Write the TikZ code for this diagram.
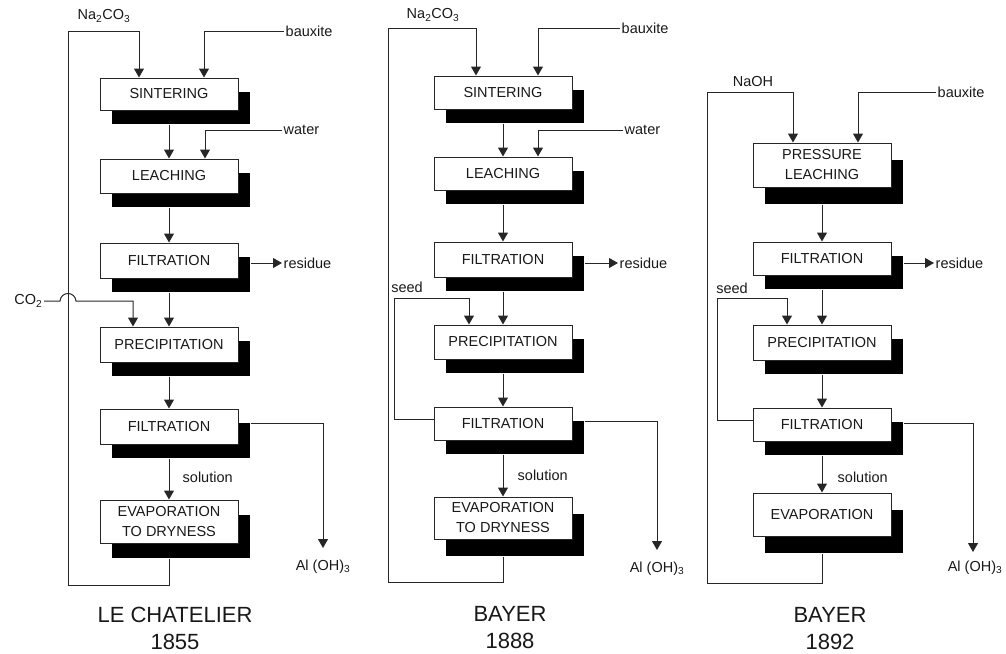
\documentclass[tikz,border=0pt]{standalone}
\usepackage{fontspec}
\setmainfont{Liberation Sans}
\usetikzlibrary{arrows.meta,shadows}
\begin{document}
\begin{tikzpicture}[x=1pt,y=-1pt,
 boxbase/.style={draw=black!85, line width=1pt, fill=white, minimum width=138pt, inner sep=0pt, align=center, text=black!90, font=\fontsize{14.5}{20}\selectfont},
 box/.style={boxbase, drop shadow={shadow xshift=12pt, shadow yshift=-#1pt, fill=black, opacity=1}},
 box/.default=14,
 lab/.style={inner sep=1.5pt, text=black!90, font=\fontsize{14.5}{17}\selectfont},
 ttl/.style={align=center, text=black!90, font=\fontsize{22}{27}\selectfont},
 ln/.style={line width=1pt, draw=black!85},
 arr/.style={ln, -{Triangle[length=9pt,width=10pt]}}]
\useasboundingbox (0,0) rectangle (1006,653);
% ---------------- column 1: Le Chatelier 1855
\node[box,minimum height=32pt] (s1) at (169,94) {SINTERING};
\node[box,minimum height=34pt] (l1) at (169,176) {LEACHING};
\node[box,minimum height=35pt] (f1) at (169,260.5) {FILTRATION};
\node[box,minimum height=35pt] (p1) at (169,344.5) {PRECIPITATION};
\node[box,minimum height=35pt] (g1) at (169,426.5) {FILTRATION};
\node[box=15,minimum height=43pt] (e1) at (169,521.5) {EVAPORATION\\TO DRYNESS};
\node[lab] (na1) at (104,16) {Na\textsubscript{2}CO\textsubscript{3}};
\node[lab,anchor=west] (bx1) at (284,31) {bauxite};
\node[lab,anchor=west] (w1) at (282,130) {water};
\node[lab,anchor=west] (r1) at (282,263) {residue};
\node[lab,anchor=east] (c1) at (44,301) {CO\textsubscript{2}};
\coordinate (a1) at (323,548);
\node[lab] (al1) at (323,567) {Al (OH)\textsubscript{3}};
\node[lab,anchor=west] (so1) at (181,477) {solution};
\node[ttl] (t1) at (175,628) {LE CHATELIER\\1855};
\draw[arr] ([yshift=-15pt]e1.south) -- (169,585) -| (68,31) -| ([xshift=-30pt]s1.north);
\draw[arr] (bx1.west) -| ([xshift=35pt]s1.north);
\draw[arr] ([yshift=-14pt]s1.south) -- (l1.north);
\draw[arr] (w1.west) -| ([xshift=36pt]l1.north);
\draw[arr] ([yshift=-14pt]l1.south) -- (f1.north);
\draw[arr] ([xshift=12pt,yshift=-2.5pt]f1.east) -- (r1.west);
\draw[arr] ([yshift=-14pt]f1.south) -- (p1.north);
\draw[arr] (c1.east) -- (60,301) .. controls (61,291) and (75,291) .. (76,301) -- (133,301) -- ([xshift=-36pt]p1.north);
\draw[arr] ([yshift=-14pt]p1.south) -- (g1.north);
\draw[arr] ([xshift=12pt,yshift=3.5pt]g1.east) -| (a1);
\draw[arr] ([yshift=-14pt]g1.south) -- (e1.north);
% ---------------- column 2: Bayer 1888
\node[box,minimum height=33pt] (s2) at (503,92.5) {SINTERING};
\node[box,minimum height=33pt] (l2) at (503,173.5) {LEACHING};
\node[box,minimum height=35pt] (f2) at (503,259.5) {FILTRATION};
\node[box,minimum height=34pt] (p2) at (503,342) {PRECIPITATION};
\node[box,minimum height=33pt] (g2) at (503,423.5) {FILTRATION};
\node[box=17,minimum height=42pt] (e2) at (503,518) {EVAPORATION\\TO DRYNESS};
\node[lab] (na2) at (433,15) {Na\textsubscript{2}CO\textsubscript{3}};
\node[lab,anchor=west] (bx2) at (620,28) {bauxite};
\node[lab,anchor=west] (w2) at (623,130) {water};
\node[lab,anchor=west] (r2) at (618,263) {residue};
\node[lab] (sd2) at (407,287) {seed};
\coordinate (a2) at (657,550);
\node[lab] (al2) at (657,569) {Al (OH)\textsubscript{3}};
\node[lab,anchor=west] (so2) at (516,475) {solution};
\node[ttl] (t2) at (510,628) {BAYER\\1888};
\draw[arr] ([yshift=-17pt]e2.south) -- (503,582) -| (388,28) -| ([xshift=-27pt]s2.north);
\draw[arr] (bx2.west) -| ([xshift=35pt]s2.north);
\draw[arr] ([yshift=-14pt]s2.south) -- (l2.north);
\draw[arr] (w2.west) -| ([xshift=35pt]l2.north);
\draw[arr] ([yshift=-14pt]l2.south) -- (f2.north);
\draw[arr] ([xshift=12pt,yshift=-3.5pt]f2.east) -- (r2.west);
\draw[arr] ([yshift=-14pt]f2.south) -- (p2.north);
\draw[arr] ([yshift=4.5pt]g2.west) -| (394,298) -| ([xshift=-34pt]p2.north);
\draw[arr] ([yshift=-14pt]p2.south) -- (g2.north);
\draw[arr] ([xshift=12pt,yshift=2.5pt]g2.east) -| (a2);
\draw[arr] ([yshift=-14pt]g2.south) -- (e2.north);
% ---------------- column 3: Bayer 1892
\node[box=17,minimum height=44pt] (pl3) at (822,165) {PRESSURE\\LEACHING};
\node[box,minimum height=33pt] (f3) at (822,258.5) {FILTRATION};
\node[box,minimum height=35pt] (p3) at (822,342.5) {PRECIPITATION};
\node[box,minimum height=33pt] (g3) at (822,424.5) {FILTRATION};
\node[box=17,minimum height=43pt] (e3) at (822,514.5) {EVAPORATION};
\node[lab] (na3) at (753,82) {NaOH};
\node[lab,anchor=west] (bx3) at (936,92) {bauxite};
\node[lab,anchor=west] (r3) at (934,263) {residue};
\node[lab] (sd3) at (732,288) {seed};
\coordinate (a3) at (973,552);
\node[lab] (al3) at (975,568) {Al (OH)\textsubscript{3}};
\node[lab,anchor=west] (so3) at (836,477) {solution};
\node[ttl] (t3) at (830,629) {BAYER\\1892};
\draw[arr] ([yshift=-17pt]e3.south) -- (822,583) -| (707,92) -| ([xshift=-29pt]pl3.north);
\draw[arr] (bx3.west) -| ([xshift=36pt]pl3.north);
\draw[arr] ([yshift=-17pt]pl3.south) -- (f3.north);
\draw[arr] ([xshift=12pt,yshift=-4.5pt]f3.east) -- (r3.west);
\draw[arr] ([yshift=-14pt]f3.south) -- (p3.north);
\draw[arr] ([yshift=4.5pt]g3.west) -| (717,298) -| ([xshift=-35pt]p3.north);
\draw[arr] ([yshift=-14pt]p3.south) -- (g3.north);
\draw[arr] ([xshift=12pt,yshift=1.5pt]g3.east) -| (a3);
\draw[arr] ([yshift=-14pt]g3.south) -- (e3.north);
\end{tikzpicture}
\end{document}
